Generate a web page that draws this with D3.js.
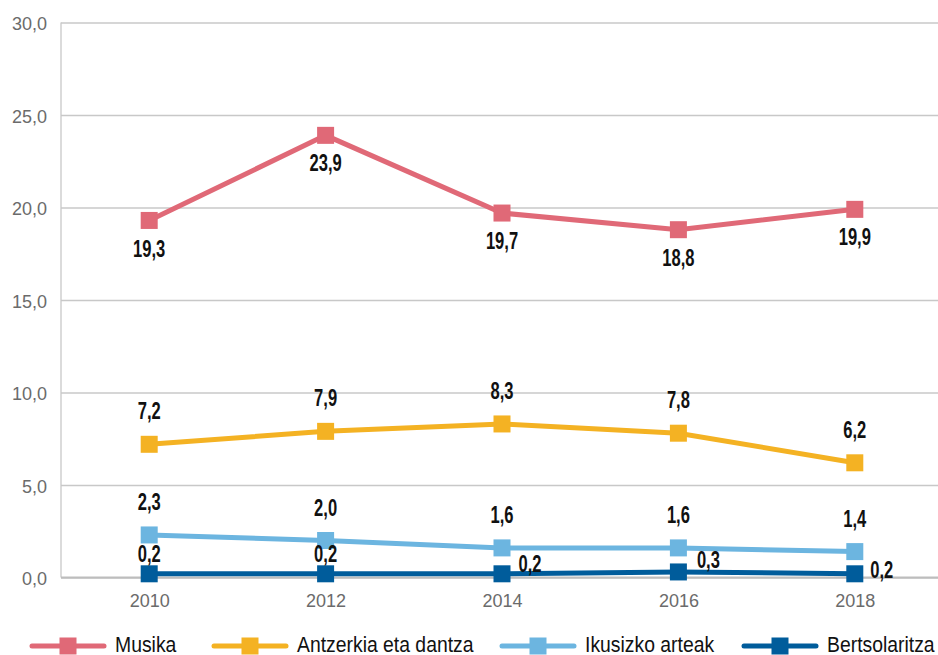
<!DOCTYPE html>
<html>
<head>
<meta charset="utf-8">
<script src="https://cdn.jsdelivr.net/npm/d3@7"></script>
<style>
  body { margin: 0; background: #fff; }
  svg { display: block; }
  .tick text { font-family: 'Liberation Sans', Arial, sans-serif; fill: #6b6b6b; font-size: 18px; }
  .val { font-family: 'Liberation Sans', Arial, sans-serif; font-weight: bold; font-size: 23px; fill: #111; }
  .legend text { font-family: 'Liberation Sans', Arial, sans-serif; font-size: 22px; fill: #111; }
</style>
</head>
<body>
<svg width="938" height="655"></svg>
<script>
const years = ['2010', '2012', '2014', '2016', '2018'];
const musika = [19.3, 23.9, 19.7, 18.8, 19.9];
const antzerkia = [7.2, 7.9, 8.3, 7.8, 6.2];
const ikusizko = [2.3, 2.0, 1.6, 1.6, 1.4];
const bertsolaritza = [0.2, 0.2, 0.2, 0.3, 0.2];
const seriesNames = ['Musika', 'Antzerkia eta dantza', 'Ikusizko arteak', 'Bertsolaritza'];
const yTicks = [0, 5, 10, 15, 20, 25, 30];

const svg = d3.select('svg');
const colors = ['#e06977', '#f4b223', '#6cb5e0', '#005c9b'];
// label offsets from marker, per series
const labelPos = [
  i => [0, 28],
  i => [0, -33],
  i => [0, -33],
  i => [[0, -20], [0, -20], [28, -10], [30, -12], [27, -4]][i]
];

const margin = { left: 61, top: 22.5 };
const innerWidth = 882;
const innerHeight = 555;

const xScale = d3.scalePoint().domain(years).range([0, innerWidth]).padding(0.5);
const yScale = d3.scaleLinear().domain([0, 30]).range([innerHeight, 0]);

const g = svg.append('g').attr('transform', `translate(${margin.left},${margin.top})`);

const fmt = v => d3.format('.1f')(v).replace('.', ',');

// squeeze text horizontally (condensed look) without transforms
function condense(sel, k) {
  sel.each(function () {
    const w = this.getComputedTextLength();
    d3.select(this).attr('textLength', w * k).attr('lengthAdjust', 'spacingAndGlyphs');
  });
}

const yAxisG = g.append('g')
  .call(d3.axisLeft(yScale).tickValues(yTicks).tickSize(-(938 - margin.left)).tickPadding(14).tickFormat(fmt));
yAxisG.select('.domain').remove();
yAxisG.selectAll('.tick line').attr('stroke', '#c8c8c8').attr('stroke-width', 1.3);
yAxisG.selectAll('.tick text').attr('dy', '0.4em');

g.append('line').attr('x1', 0).attr('x2', 0).attr('y1', 0).attr('y2', innerHeight)
  .attr('stroke', '#c8c8c8').attr('stroke-width', 1.3);
g.append('line').attr('x1', 0).attr('x2', 938 - margin.left).attr('y1', innerHeight).attr('y2', innerHeight)
  .attr('stroke', '#bdbdbd').attr('stroke-width', 2);

const xAxisG = g.append('g').attr('transform', `translate(0,${innerHeight})`)
  .call(d3.axisBottom(xScale).tickSize(0).tickPadding(17));
xAxisG.select('.domain').remove();

const allSeries = [musika, antzerkia, ikusizko, bertsolaritza];
const line = d3.line().x((d, i) => xScale(years[i])).y(d => yScale(d));
const sq = 17;

allSeries.forEach((data, s) => {
  g.append('path').datum(data)
    .attr('d', line).attr('fill', 'none')
    .attr('stroke', colors[s]).attr('stroke-width', 5);
  g.selectAll(null).data(data).enter().append('rect')
    .attr('x', (d, i) => xScale(years[i]) - sq / 2)
    .attr('y', d => yScale(d) - sq / 2)
    .attr('width', sq).attr('height', sq)
    .attr('fill', colors[s]);
});

// value labels
allSeries.forEach((data, s) => {
  g.selectAll(null).data(data).enter().append('text')
    .attr('class', 'val')
    .attr('text-anchor', 'middle')
    .attr('x', (d, i) => xScale(years[i]) + labelPos[s](i)[0])
    .attr('y', (d, i) => yScale(d) + labelPos[s](i)[1])
    .attr('dy', '0.35em')
    .text(fmt)
    .call(condense, 0.72);
});

// legend
const legendX = [30, 212, 500, 742];
const legend = svg.append('g').attr('class', 'legend');
seriesNames.forEach((name, s) => {
  const x0 = legendX[s];
  legend.append('line').attr('x1', x0 + 2).attr('x2', x0 + 74).attr('y1', 646).attr('y2', 646)
    .attr('stroke', colors[s]).attr('stroke-width', 5).attr('stroke-linecap', 'round');
  legend.append('rect').attr('x', x0 + 38 - sq / 2).attr('y', 646 - sq / 2).attr('width', sq).attr('height', sq)
    .attr('fill', colors[s]);
  legend.append('text').attr('x', x0 + 85).attr('y', 652).text(name).call(condense, 0.88);
});
</script>
</body>
</html>
